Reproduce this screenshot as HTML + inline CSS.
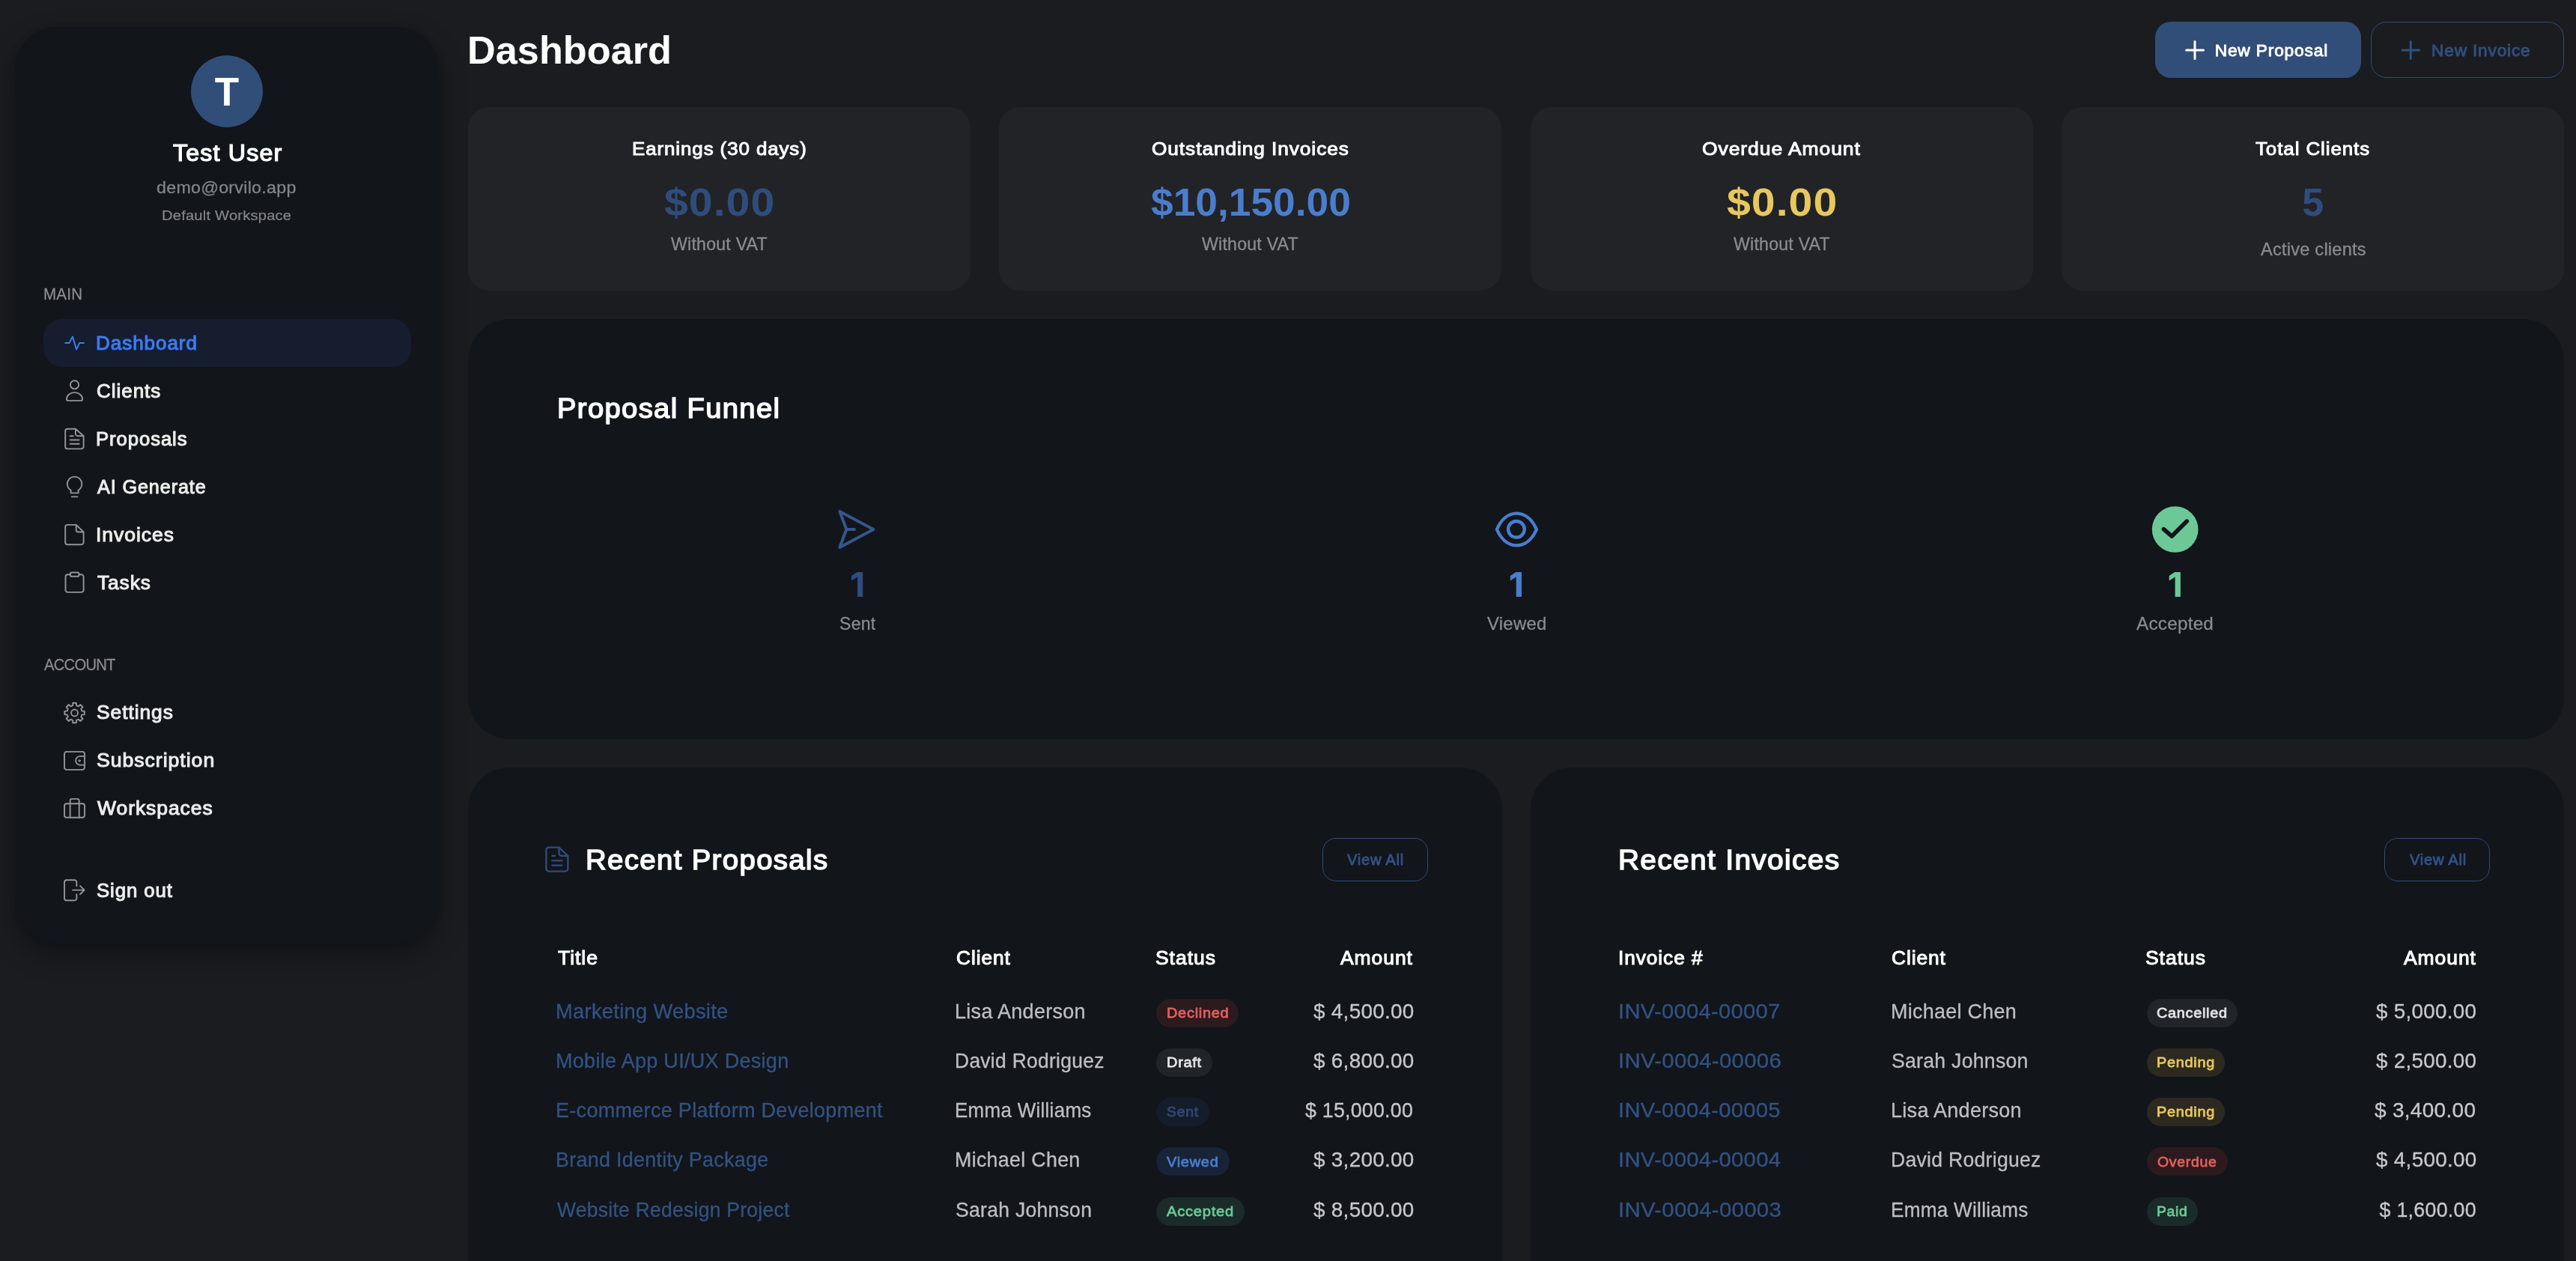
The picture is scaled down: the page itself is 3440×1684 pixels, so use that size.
<!DOCTYPE html>
<html lang="en"><head><meta charset="utf-8"><title>Dashboard</title>
<style>
html,body{margin:0;padding:0}
body{width:3440px;height:1684px;overflow:hidden;background:#1b1c20;position:relative;font-family:"Liberation Sans", sans-serif;}
.b{position:absolute;box-sizing:border-box}
.t{position:absolute;white-space:nowrap;line-height:1;margin:0;transform-origin:0 0}
#L{position:absolute;left:0;top:0;width:3440px;height:1684px;will-change:transform;transform:translateZ(0)}
svg{position:absolute;overflow:visible}
</style></head><body>
<div class="b" style="left:20px;top:36px;width:566px;height:1223px;background:#12151a;border-radius:56px;box-shadow:0 16px 38px rgba(0,0,0,.32),0 0 10px rgba(0,0,0,.08);"></div>
<div class="b" style="left:255px;top:74px;width:96px;height:96px;background:#314e78;border-radius:48px;"></div>
<div class="b" style="left:58px;top:426px;width:491px;height:64px;background:#151d2f;border-radius:25px;"></div>
<div class="b" style="left:625px;top:143px;width:670.8px;height:245px;background:#222327;border-radius:28px;"></div>
<div class="b" style="left:1334.4px;top:143px;width:670.8px;height:245px;background:#222327;border-radius:28px;"></div>
<div class="b" style="left:2043.8px;top:143px;width:670.8px;height:245px;background:#222327;border-radius:28px;"></div>
<div class="b" style="left:2753.2px;top:143px;width:670.8px;height:245px;background:#222327;border-radius:28px;"></div>
<div class="b" style="left:625px;top:426px;width:2799px;height:560.5px;background:#12151a;border-radius:56px;"></div>
<div class="b" style="left:625px;top:1025px;width:1380.6px;height:800px;background:#12151a;border-radius:56px;"></div>
<div class="b" style="left:2044px;top:1025px;width:1380px;height:800px;background:#12151a;border-radius:56px;"></div>
<div class="b" style="left:2878px;top:29px;width:275px;height:75.3px;background:#314e78;border-radius:21px;"></div>
<div class="b" style="left:3166px;top:29px;width:258px;height:75.3px;border-radius:21px;border:1.4px solid #2f4d7c;"></div>
<div class="b" style="left:1766px;top:1119px;width:141.2px;height:58.1px;border-radius:18px;border:1.4px solid #2f4d7c;"></div>
<div class="b" style="left:3184px;top:1119px;width:141.2px;height:58.1px;border-radius:18px;border:1.4px solid #2f4d7c;"></div>
<div class="b" style="left:1544px;top:1333.6px;width:110px;height:38px;background:#2b1a1e;border-radius:19px;"></div>
<div class="b" style="left:1544px;top:1399.85px;width:74.8px;height:38px;background:#212429;border-radius:19px;"></div>
<div class="b" style="left:1544px;top:1466.1px;width:70.8px;height:38px;background:#151c2a;border-radius:19px;"></div>
<div class="b" style="left:1544px;top:1532.35px;width:97.7px;height:38px;background:#182338;border-radius:19px;"></div>
<div class="b" style="left:1544px;top:1598.6px;width:117.8px;height:38px;background:#1a2b29;border-radius:19px;"></div>
<div class="b" style="left:2866.6px;top:1333.6px;width:121.6px;height:38px;background:#212429;border-radius:19px;"></div>
<div class="b" style="left:2866.6px;top:1399.85px;width:104.9px;height:38px;background:#2c2a20;border-radius:19px;"></div>
<div class="b" style="left:2866.6px;top:1466.1px;width:104.9px;height:38px;background:#2c2a20;border-radius:19px;"></div>
<div class="b" style="left:2866.6px;top:1532.35px;width:108.2px;height:38px;background:#2b1a1e;border-radius:19px;"></div>
<div class="b" style="left:2866.6px;top:1598.6px;width:68.5px;height:38px;background:#1a2b29;border-radius:19px;"></div>
<svg style="left:0px;top:0px;stroke-linecap:round;stroke-linejoin:round;pointer-events:none;" width="3440" height="1684" viewBox="0 0 3440 1684" fill="none"><path d="M87.2 457.9H92.6L96.9 449.6L102.1 466.6L106.2 457.9H111.8" stroke="#3d7bf0" stroke-width="2" fill="none"/><path d="M105.15 513.8a5.6 5.6 0 1 1-11.2 0a5.6 5.6 0 1 1 11.2 0z" stroke="#939599" stroke-width="1.9" fill="none"/><path d="M91 535.1H108.1a2 2 0 0 0 2-2c0-5-4.7-9-10.55-9s-10.55 4-10.55 9a2 2 0 0 0 2 2z" stroke="#939599" stroke-width="1.9" fill="none"/><path d="M100.9 572.7H90.2a3 3 0 0 0-3 3V596.4a3 3 0 0 0 3 3H108.6a3 3 0 0 0 3-3V582.3L100.9 572.7V579.3a3 3 0 0 0 3 3H111.6" stroke="#939599" stroke-width="1.9" fill="none"/><path d="M93.7 582.3H97.9M93.7 587.5H105.7M93.7 592.8H105.7" stroke="#939599" stroke-width="1.9" fill="none"/><path d="M94.6 658.4V654.6A9.7 9.7 0 1 1 104.6 654.6V658.4Z" stroke="#939599" stroke-width="1.9" fill="none"/><path d="M95.8 663.4H103.4" stroke="#939599" stroke-width="1.9" fill="none"/><path d="M101.7 700.9H90.2a3 3 0 0 0-3 3V724.3a3 3 0 0 0 3 3H108.6a3 3 0 0 0 3-3V710.5L101.7 700.9V707.5a3 3 0 0 0 3 3H111.6" stroke="#939599" stroke-width="1.9" fill="none"/><path d="M93.6 767.2H90.5a3 3 0 0 0-3 3V787.9a3 3 0 0 0 3 3H108.6a3 3 0 0 0 3-3V770.2a3 3 0 0 0-3-3H105.7" stroke="#939599" stroke-width="1.9" fill="none"/><path d="M96.2 764.5H103.1a2.6 2.6 0 0 1 0 5.3H96.2a2.6 2.6 0 0 1 0-5.3z" stroke="#939599" stroke-width="1.9" fill="none"/><path d="M97.25 938.80L101.85 938.80L101.93 942.08L104.88 943.30L107.26 941.04L110.51 944.29L108.25 946.67L109.47 949.62L112.75 949.70L112.75 954.30L109.47 954.38L108.25 957.33L110.51 959.71L107.26 962.96L104.88 960.70L101.93 961.92L101.85 965.20L97.25 965.20L97.17 961.92L94.22 960.70L91.84 962.96L88.59 959.71L90.85 957.33L89.63 954.38L86.35 954.30L86.35 949.70L89.63 949.62L90.85 946.67L88.59 944.29L91.84 941.04L94.22 943.30L97.17 942.08Z" stroke="#939599" stroke-width="1.9" fill="none"/><path d="M104.05 952a4.5 4.5 0 1 1-9 0a4.5 4.5 0 1 1 9 0z" stroke="#939599" stroke-width="1.9" fill="none"/><path d="M89 1003.9H110a3 3 0 0 1 3 3V1024.9a3 3 0 0 1-3 3H89a3 3 0 0 1-3-3V1006.9a3 3 0 0 1 3-3z" stroke="#939599" stroke-width="1.9" fill="none"/><path d="M113 1009.9H107a5.85 5.85 0 0 0 0 11.7H113" stroke="#939599" stroke-width="1.9" fill="none"/><path d="M107.4 1015.9a1.2 1.2 0 1 1-2.4 0a1.2 1.2 0 1 1 2.4 0z" stroke="#939599" stroke-width="1" fill="#939599"/><path d="M89 1073.2H110a3 3 0 0 1 3 3V1088.7a3 3 0 0 1-3 3H89a3 3 0 0 1-3-3V1076.2a3 3 0 0 1 3-3z" stroke="#939599" stroke-width="1.9" fill="none"/><path d="M93.6 1091.7V1069.4a2.5 2.5 0 0 1 2.5-2.5H103.2a2.5 2.5 0 0 1 2.5 2.5V1091.7" stroke="#939599" stroke-width="1.9" fill="none"/><path d="M102.4 1183.2V1178.2a3 3 0 0 0-3-3H89a3 3 0 0 0-3 3V1199.5a3 3 0 0 0 3 3H99.4a3 3 0 0 0 3-3V1194.3" stroke="#939599" stroke-width="1.9" fill="none"/><path d="M97.1 1188.6H112.6M107 1183.1L112.7 1188.6L107 1194.2" stroke="#939599" stroke-width="1.9" fill="none"/><path d="M2919.6 66.9H2942.5M2931 55.5V78.4" stroke="#ffffff" stroke-width="3" fill="none"/><path d="M3208 66.9H3230.5M3219.2 55.5V78.4" stroke="#30507f" stroke-width="3" fill="none"/><path d="M1121.4 683L1166.4 707L1121.4 731L1130.3 707ZM1130.3 707H1141" stroke="#34568b" stroke-width="4" fill="none"/><path d="M1998.9 707C2004.5 694 2014 685.6 2025.4 685.6C2036.8 685.6 2046.3 694 2051.9 707C2046.3 720 2036.8 728.4 2025.4 728.4C2014 728.4 2004.5 720 1998.9 707Z" stroke="#4a7dcc" stroke-width="4.4" fill="none"/><path d="M2035.7 706.8a10.8 10.8 0 1 1-21.6 0a10.8 10.8 0 1 1 21.6 0z" stroke="#4a7dcc" stroke-width="4.4" fill="none"/><path d="M2935.5 707a30.85 30.85 0 1 1-61.7 0a30.85 30.85 0 1 1 61.7 0z" stroke="none" stroke-width="0" fill="#6cc997"/><path d="M2889.4 706.6L2900.3 716.1L2920.3 696.1" stroke="#12151a" stroke-width="5.6" fill="none"/><path d="M1152.25 764.10L1144.50 764.10L1137.10 769.00L1137.10 775.50L1145.00 770.40L1145.00 797.10L1152.25 797.10Z" stroke="none" stroke-width="0" fill="#2f4d7b"/><path d="M2031.95 764.10L2024.20 764.10L2016.80 769.00L2016.80 775.50L2024.70 770.40L2024.70 797.10L2031.95 797.10Z" stroke="none" stroke-width="0" fill="#4a7dcc"/><path d="M2911.85 764.10L2904.10 764.10L2896.70 769.00L2896.70 775.50L2904.60 770.40L2904.60 797.10L2911.85 797.10Z" stroke="none" stroke-width="0" fill="#6cc997"/><path d="M746.5 1131.6H733a3.6 3.6 0 0 0-3.6 3.6V1160a3.6 3.6 0 0 0 3.6 3.6H754.8a3.6 3.6 0 0 0 3.6-3.6V1143L746.5 1131.6V1139.4a3.6 3.6 0 0 0 3.6 3.6H758.4" stroke="#2f4d7c" stroke-width="2.3" fill="none"/><path d="M737.3 1143H741M737.3 1149.3H750.6M737.3 1155.6H750.6" stroke="#2f4d7c" stroke-width="2.3" fill="none"/></svg>
<div id="L">
<div class="t" style="left:286.81px;top:96.44px;font-size:53px;color:#ffffff;font-weight:700;">T</div>
<div class="t" style="left:230.82px;top:189.18px;font-size:30.5px;color:#ffffff;-webkit-text-stroke:1.22px currentColor;letter-spacing:1.1px;transform:scaleX(1.0555);">Test User</div>
<div class="t" style="left:209.29px;top:241.31px;font-size:21.25px;color:#83858a;-webkit-text-stroke:0.26px currentColor;letter-spacing:0.23px;transform:scaleX(1.0958);">demo@orvilo.app</div>
<div class="t" style="left:216.22px;top:278.63px;font-size:18.75px;color:#83858a;-webkit-text-stroke:0.23px currentColor;letter-spacing:0.2px;transform:scaleX(1.0730);">Default Workspace</div>
<div class="t" style="left:57.83px;top:382.61px;font-size:21.25px;color:#8a8c90;-webkit-text-stroke:0.26px currentColor;letter-spacing:0.23px;transform:scaleX(0.9663);">MAIN</div>
<div class="t" style="left:58.69px;top:877.71px;font-size:21.25px;color:#8a8c90;-webkit-text-stroke:0.26px currentColor;letter-spacing:-0.77px;transform:scaleX(0.9500);">ACCOUNT</div>
<div class="t" style="left:128.45px;top:446.34px;font-size:25px;color:#3d7bf0;-webkit-text-stroke:1px currentColor;letter-spacing:0.9px;transform:scaleX(1.0421);">Dashboard</div>
<div class="t" style="left:128.56px;top:510.34px;font-size:25px;color:#eceded;-webkit-text-stroke:1px currentColor;letter-spacing:0.9px;transform:scaleX(1.0423);">Clients</div>
<div class="t" style="left:128.47px;top:574.34px;font-size:25px;color:#eceded;-webkit-text-stroke:1px currentColor;letter-spacing:0.9px;transform:scaleX(1.0271);">Proposals</div>
<div class="t" style="left:129.6px;top:638.34px;font-size:25px;color:#eceded;-webkit-text-stroke:1px currentColor;letter-spacing:0.9px;transform:scaleX(1.0066);">AI Generate</div>
<div class="t" style="left:127.61px;top:702.34px;font-size:25px;color:#eceded;-webkit-text-stroke:1px currentColor;letter-spacing:0.9px;transform:scaleX(1.0612);">Invoices</div>
<div class="t" style="left:129.6px;top:766.34px;font-size:25px;color:#eceded;-webkit-text-stroke:1px currentColor;letter-spacing:0.9px;transform:scaleX(1.0490);">Tasks</div>
<div class="t" style="left:128.55px;top:939.24px;font-size:25px;color:#eceded;-webkit-text-stroke:1px currentColor;letter-spacing:0.9px;transform:scaleX(1.0540);">Settings</div>
<div class="t" style="left:128.53px;top:1003.14px;font-size:25px;color:#eceded;-webkit-text-stroke:1px currentColor;letter-spacing:0.9px;transform:scaleX(1.0661);">Subscription</div>
<div class="t" style="left:129.6px;top:1067.14px;font-size:25px;color:#eceded;-webkit-text-stroke:1px currentColor;letter-spacing:0.9px;transform:scaleX(1.0588);">Workspaces</div>
<div class="t" style="left:128.57px;top:1177.04px;font-size:25px;color:#eceded;-webkit-text-stroke:1px currentColor;letter-spacing:0.9px;transform:scaleX(1.0303);">Sign out</div>
<div class="t" style="left:623.88px;top:42.41px;font-size:51.5px;color:#ffffff;font-weight:700;transform:scaleX(1.0151);">Dashboard</div>
<div class="t" style="left:2957.65px;top:55.94px;font-size:22.75px;color:#ffffff;-webkit-text-stroke:0.91px currentColor;letter-spacing:0.82px;">New Proposal</div>
<div class="t" style="left:3246.65px;top:55.94px;font-size:22.75px;color:#30507f;-webkit-text-stroke:0.91px currentColor;letter-spacing:0.82px;transform:scaleX(0.9969);">New Invoice</div>
<div class="t" style="left:844.13px;top:186.95px;font-size:24.75px;color:#ffffff;-webkit-text-stroke:0.99px currentColor;letter-spacing:0.89px;transform:scaleX(1.0448);">Earnings (30 days)</div>
<div class="t" style="left:887.36px;top:244.08px;font-size:52px;color:#2f4d7c;font-weight:700;letter-spacing:0.92px;transform:scaleX(1.1000);">$0.00</div>
<div class="t" style="left:895.85px;top:313.98px;font-size:24px;color:#8a8c90;-webkit-text-stroke:0.29px currentColor;letter-spacing:0.26px;transform:scaleX(0.9617);">Without VAT</div>
<div class="t" style="left:1538.29px;top:186.95px;font-size:24.75px;color:#ffffff;-webkit-text-stroke:0.99px currentColor;letter-spacing:0.89px;transform:scaleX(1.0596);">Outstanding Invoices</div>
<div class="t" style="left:1537.1px;top:244.08px;font-size:52px;color:#4a7dcc;font-weight:700;transform:scaleX(1.0252);">$10,150.00</div>
<div class="t" style="left:1605.41px;top:313.98px;font-size:24px;color:#8a8c90;-webkit-text-stroke:0.29px currentColor;letter-spacing:0.26px;transform:scaleX(0.9617);">Without VAT</div>
<div class="t" style="left:2273.45px;top:186.95px;font-size:24.75px;color:#ffffff;-webkit-text-stroke:0.99px currentColor;letter-spacing:0.89px;transform:scaleX(1.0686);">Overdue Amount</div>
<div class="t" style="left:2306.48px;top:244.08px;font-size:52px;color:#e8c75f;font-weight:700;letter-spacing:0.92px;transform:scaleX(1.1000);">$0.00</div>
<div class="t" style="left:2314.97px;top:313.98px;font-size:24px;color:#8a8c90;-webkit-text-stroke:0.29px currentColor;letter-spacing:0.26px;transform:scaleX(0.9617);">Without VAT</div>
<div class="t" style="left:3012.37px;top:186.95px;font-size:24.75px;color:#ffffff;-webkit-text-stroke:0.99px currentColor;letter-spacing:0.89px;transform:scaleX(1.0456);">Total Clients</div>
<div class="t" style="left:3074.14px;top:244.08px;font-size:52px;color:#2f4d7c;font-weight:700;">5</div>
<div class="t" style="left:3018.56px;top:321.08px;font-size:24px;color:#8a8c90;-webkit-text-stroke:0.29px currentColor;letter-spacing:0.26px;transform:scaleX(0.9800);">Active clients</div>
<div class="t" style="left:743.76px;top:528.43px;font-size:36px;color:#ffffff;-webkit-text-stroke:1.44px currentColor;letter-spacing:1.3px;transform:scaleX(1.0593);">Proposal Funnel</div>
<div class="t" style="left:1120.66px;top:820.78px;font-size:24px;color:#8a8c90;-webkit-text-stroke:0.29px currentColor;letter-spacing:0.26px;transform:scaleX(0.9612);">Sent</div>
<div class="t" style="left:1986.11px;top:820.78px;font-size:24px;color:#8a8c90;-webkit-text-stroke:0.29px currentColor;letter-spacing:0.26px;transform:scaleX(0.9976);">Viewed</div>
<div class="t" style="left:2853.42px;top:820.78px;font-size:24px;color:#8a8c90;-webkit-text-stroke:0.29px currentColor;letter-spacing:0.26px;transform:scaleX(1.0094);">Accepted</div>
<div class="t" style="left:781.85px;top:1130.93px;font-size:36px;color:#ffffff;-webkit-text-stroke:1.44px currentColor;letter-spacing:1.3px;transform:scaleX(1.0640);">Recent Proposals</div>
<div class="t" style="left:2160.6px;top:1130.93px;font-size:36px;color:#ffffff;-webkit-text-stroke:1.44px currentColor;letter-spacing:1.3px;transform:scaleX(1.0758);">Recent Invoices</div>
<div class="t" style="left:1799.03px;top:1139.49px;font-size:19.5px;color:#325389;-webkit-text-stroke:0.78px currentColor;letter-spacing:0.7px;transform:scaleX(1.0321);">View All</div>
<div class="t" style="left:3217.71px;top:1139.49px;font-size:19.5px;color:#325389;-webkit-text-stroke:0.78px currentColor;letter-spacing:0.7px;transform:scaleX(1.0321);">View All</div>
<div class="t" style="left:744.82px;top:1267.04px;font-size:25px;color:#ffffff;-webkit-text-stroke:1px currentColor;letter-spacing:0.9px;transform:scaleX(1.0610);">Title</div>
<div class="t" style="left:1276.55px;top:1267.04px;font-size:25px;color:#ffffff;-webkit-text-stroke:1px currentColor;letter-spacing:0.9px;transform:scaleX(1.0499);">Client</div>
<div class="t" style="left:1542.54px;top:1267.04px;font-size:25px;color:#ffffff;-webkit-text-stroke:1px currentColor;letter-spacing:0.9px;transform:scaleX(1.0597);">Status</div>
<div class="t" style="left:1789.72px;top:1267.04px;font-size:25px;color:#ffffff;-webkit-text-stroke:1px currentColor;letter-spacing:0.9px;transform:scaleX(1.0580);">Amount</div>
<div class="t" style="left:742.43px;top:1338.16px;font-size:26.75px;color:#325282;-webkit-text-stroke:0.32px currentColor;letter-spacing:0.29px;transform:scaleX(1.0205);">Marketing Website</div>
<div class="t" style="left:1275.24px;top:1338.16px;font-size:26.75px;color:#bdbfc2;-webkit-text-stroke:0.32px currentColor;letter-spacing:0.29px;transform:scaleX(1.0092);">Lisa Anderson</div>
<div class="t" style="left:1557.79px;top:1343px;font-size:19.25px;color:#e2615e;-webkit-text-stroke:0.77px currentColor;letter-spacing:0.69px;transform:scaleX(1.0365);">Declined</div>
<div class="t" style="left:1753.53px;top:1338.16px;font-size:26.75px;color:#c6c8cb;-webkit-text-stroke:0.32px currentColor;letter-spacing:0.29px;transform:scaleX(1.0405);">$ 4,500.00</div>
<div class="t" style="left:742.45px;top:1404.41px;font-size:26.75px;color:#325282;-webkit-text-stroke:0.32px currentColor;letter-spacing:0.29px;transform:scaleX(1.0097);">Mobile App UI/UX Design</div>
<div class="t" style="left:1275.28px;top:1404.41px;font-size:26.75px;color:#bdbfc2;-webkit-text-stroke:0.32px currentColor;letter-spacing:0.29px;transform:scaleX(0.9883);">David Rodriguez</div>
<div class="t" style="left:1557.79px;top:1409.25px;font-size:19.25px;color:#e4e5e7;-webkit-text-stroke:0.77px currentColor;letter-spacing:0.69px;transform:scaleX(1.0382);">Draft</div>
<div class="t" style="left:1753.53px;top:1404.41px;font-size:26.75px;color:#c6c8cb;-webkit-text-stroke:0.32px currentColor;letter-spacing:0.29px;transform:scaleX(1.0405);">$ 6,800.00</div>
<div class="t" style="left:742.45px;top:1469.66px;font-size:26.75px;color:#325282;-webkit-text-stroke:0.32px currentColor;letter-spacing:0.29px;transform:scaleX(1.0098);">E-commerce Platform Development</div>
<div class="t" style="left:1275.31px;top:1469.66px;font-size:26.75px;color:#bdbfc2;-webkit-text-stroke:0.32px currentColor;letter-spacing:0.29px;transform:scaleX(0.9710);">Emma Williams</div>
<div class="t" style="left:1557.71px;top:1474.5px;font-size:19.25px;color:#2f4b79;-webkit-text-stroke:0.77px currentColor;letter-spacing:0.69px;transform:scaleX(1.0111);">Sent</div>
<div class="t" style="left:1743.23px;top:1469.66px;font-size:26.75px;color:#c6c8cb;-webkit-text-stroke:0.32px currentColor;letter-spacing:0.29px;transform:scaleX(0.9966);">$ 15,000.00</div>
<div class="t" style="left:742.46px;top:1535.91px;font-size:26.75px;color:#325282;-webkit-text-stroke:0.32px currentColor;letter-spacing:0.29px;transform:scaleX(1.0052);">Brand Identity Package</div>
<div class="t" style="left:1275.25px;top:1535.91px;font-size:26.75px;color:#bdbfc2;-webkit-text-stroke:0.32px currentColor;letter-spacing:0.29px;transform:scaleX(1.0032);">Michael Chen</div>
<div class="t" style="left:1558.48px;top:1541.75px;font-size:19.25px;color:#4a7dcc;-webkit-text-stroke:0.77px currentColor;letter-spacing:0.69px;transform:scaleX(1.0391);">Viewed</div>
<div class="t" style="left:1753.53px;top:1535.91px;font-size:26.75px;color:#c6c8cb;-webkit-text-stroke:0.32px currentColor;letter-spacing:0.29px;transform:scaleX(1.0405);">$ 3,200.00</div>
<div class="t" style="left:744.48px;top:1603.16px;font-size:26.75px;color:#325282;-webkit-text-stroke:0.32px currentColor;letter-spacing:0.29px;transform:scaleX(0.9882);">Website Redesign Project</div>
<div class="t" style="left:1276.2px;top:1603.16px;font-size:26.75px;color:#bdbfc2;-webkit-text-stroke:0.32px currentColor;letter-spacing:0.29px;transform:scaleX(0.9917);">Sarah Johnson</div>
<div class="t" style="left:1558.48px;top:1608px;font-size:19.25px;color:#6cc997;-webkit-text-stroke:0.77px currentColor;letter-spacing:0.69px;transform:scaleX(1.0480);">Accepted</div>
<div class="t" style="left:1753.53px;top:1603.16px;font-size:26.75px;color:#c6c8cb;-webkit-text-stroke:0.32px currentColor;letter-spacing:0.29px;transform:scaleX(1.0405);">$ 8,500.00</div>
<div class="t" style="left:2160.51px;top:1267.04px;font-size:25px;color:#ffffff;-webkit-text-stroke:1px currentColor;letter-spacing:0.9px;transform:scaleX(1.0490);">Invoice #</div>
<div class="t" style="left:2526.45px;top:1267.04px;font-size:25px;color:#ffffff;-webkit-text-stroke:1px currentColor;letter-spacing:0.9px;transform:scaleX(1.0499);">Client</div>
<div class="t" style="left:2865.2px;top:1267.04px;font-size:25px;color:#ffffff;-webkit-text-stroke:1px currentColor;letter-spacing:0.9px;transform:scaleX(1.0597);">Status</div>
<div class="t" style="left:3209.96px;top:1267.04px;font-size:25px;color:#ffffff;-webkit-text-stroke:1px currentColor;letter-spacing:0.9px;transform:scaleX(1.0580);">Amount</div>
<div class="t" style="left:2160.76px;top:1338.16px;font-size:26.75px;color:#325282;-webkit-text-stroke:0.32px currentColor;letter-spacing:0.29px;transform:scaleX(1.0893);">INV-0004-00007</div>
<div class="t" style="left:2525.14px;top:1338.16px;font-size:26.75px;color:#bdbfc2;-webkit-text-stroke:0.32px currentColor;letter-spacing:0.29px;transform:scaleX(1.0059);">Michael Chen</div>
<div class="t" style="left:2879.79px;top:1343px;font-size:19.25px;color:#e4e5e7;-webkit-text-stroke:0.77px currentColor;letter-spacing:0.69px;transform:scaleX(1.0322);">Cancelled</div>
<div class="t" style="left:3172.97px;top:1338.16px;font-size:26.75px;color:#c6c8cb;-webkit-text-stroke:0.32px currentColor;letter-spacing:0.29px;transform:scaleX(1.0371);">$ 5,000.00</div>
<div class="t" style="left:2160.74px;top:1404.41px;font-size:26.75px;color:#325282;-webkit-text-stroke:0.32px currentColor;letter-spacing:0.29px;transform:scaleX(1.0966);">INV-0004-00006</div>
<div class="t" style="left:2526.1px;top:1404.41px;font-size:26.75px;color:#bdbfc2;-webkit-text-stroke:0.32px currentColor;letter-spacing:0.29px;transform:scaleX(0.9941);">Sarah Johnson</div>
<div class="t" style="left:2879.89px;top:1409.25px;font-size:19.25px;color:#e8c75f;-webkit-text-stroke:0.77px currentColor;letter-spacing:0.69px;transform:scaleX(1.0335);">Pending</div>
<div class="t" style="left:3172.97px;top:1404.41px;font-size:26.75px;color:#c6c8cb;-webkit-text-stroke:0.32px currentColor;letter-spacing:0.29px;transform:scaleX(1.0371);">$ 2,500.00</div>
<div class="t" style="left:2160.75px;top:1469.66px;font-size:26.75px;color:#325282;-webkit-text-stroke:0.32px currentColor;letter-spacing:0.29px;transform:scaleX(1.0903);">INV-0004-00005</div>
<div class="t" style="left:2525.14px;top:1469.66px;font-size:26.75px;color:#bdbfc2;-webkit-text-stroke:0.32px currentColor;letter-spacing:0.29px;transform:scaleX(1.0092);">Lisa Anderson</div>
<div class="t" style="left:2879.89px;top:1474.5px;font-size:19.25px;color:#e8c75f;-webkit-text-stroke:0.77px currentColor;letter-spacing:0.69px;transform:scaleX(1.0335);">Pending</div>
<div class="t" style="left:3171.06px;top:1469.66px;font-size:26.75px;color:#c6c8cb;-webkit-text-stroke:0.32px currentColor;letter-spacing:0.29px;transform:scaleX(1.0457);">$ 3,400.00</div>
<div class="t" style="left:2160.75px;top:1535.91px;font-size:26.75px;color:#325282;-webkit-text-stroke:0.32px currentColor;letter-spacing:0.29px;transform:scaleX(1.0926);">INV-0004-00004</div>
<div class="t" style="left:2525.17px;top:1535.91px;font-size:26.75px;color:#bdbfc2;-webkit-text-stroke:0.32px currentColor;letter-spacing:0.29px;transform:scaleX(0.9928);">David Rodriguez</div>
<div class="t" style="left:2880.61px;top:1541.75px;font-size:19.25px;color:#e2615e;-webkit-text-stroke:0.77px currentColor;letter-spacing:0.69px;transform:scaleX(1.0117);">Overdue</div>
<div class="t" style="left:3172.53px;top:1535.91px;font-size:26.75px;color:#c6c8cb;-webkit-text-stroke:0.32px currentColor;letter-spacing:0.29px;transform:scaleX(1.0405);">$ 4,500.00</div>
<div class="t" style="left:2160.74px;top:1603.16px;font-size:26.75px;color:#325282;-webkit-text-stroke:0.32px currentColor;letter-spacing:0.29px;transform:scaleX(1.0966);">INV-0004-00003</div>
<div class="t" style="left:2525.2px;top:1603.16px;font-size:26.75px;color:#bdbfc2;-webkit-text-stroke:0.32px currentColor;letter-spacing:0.29px;transform:scaleX(0.9758);">Emma Williams</div>
<div class="t" style="left:2879.94px;top:1608px;font-size:19.25px;color:#6cc997;-webkit-text-stroke:0.77px currentColor;letter-spacing:0.69px;transform:scaleX(1.0027);">Paid</div>
<div class="t" style="left:3177.57px;top:1603.16px;font-size:26.75px;color:#c6c8cb;-webkit-text-stroke:0.32px currentColor;letter-spacing:0.29px;">$ 1,600.00</div>
</div>
</body></html>
